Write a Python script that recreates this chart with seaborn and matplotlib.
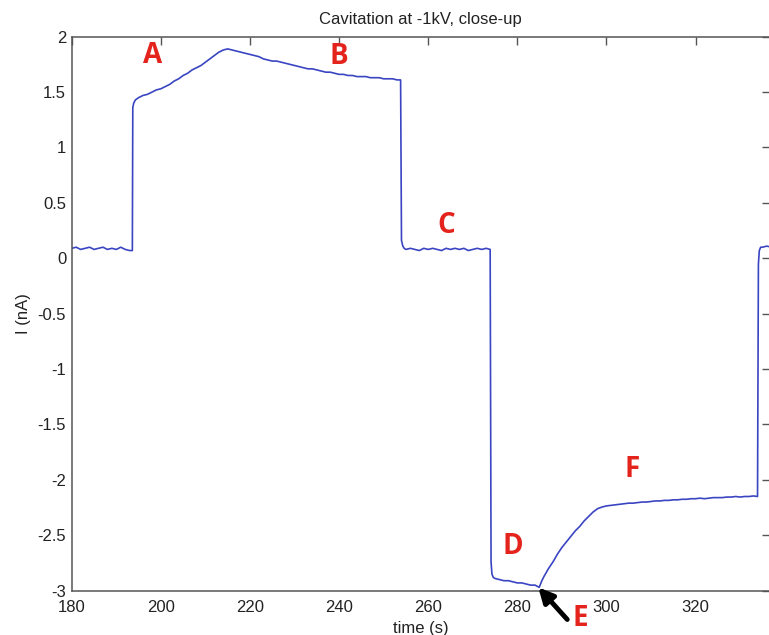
import pandas as pd
import seaborn as sns
from matplotlib import pyplot as plt

# current trace (nA), segment by segment
rest1_t = [180, 181, 182, 183, 184, 185, 186, 187, 188, 189, 190, 191, 192, 193, 193.6]
rest1_i = [0.09, 0.10, 0.08, 0.09, 0.10, 0.08, 0.09, 0.10, 0.08, 0.09, 0.08, 0.10, 0.08, 0.07, 0.07]

on1_t = [193.7, 193.9, 194.3, 195, 196, 197, 198, 199, 200, 201, 202, 203, 204, 205,
         206, 207, 208, 209, 210, 211, 212, 213, 214, 215, 216, 217, 218, 219, 220,
         221, 222, 223, 224, 225, 226, 227, 228, 229, 230, 231, 232, 233, 234, 235,
         236, 237, 238, 239, 240, 241, 242, 243, 244, 245, 246, 247, 248, 249, 250,
         251, 252, 253, 253.8]
on1_i = [1.36, 1.40, 1.43, 1.45, 1.47, 1.48, 1.50, 1.52, 1.53, 1.55, 1.57, 1.60, 1.62, 1.65,
         1.67, 1.70, 1.72, 1.74, 1.77, 1.80, 1.83, 1.86, 1.88, 1.89, 1.88, 1.87, 1.86, 1.85, 1.84,
         1.83, 1.82, 1.80, 1.79, 1.78, 1.78, 1.77, 1.76, 1.75, 1.74, 1.73, 1.72, 1.71, 1.71, 1.70,
         1.69, 1.68, 1.68, 1.67, 1.66, 1.66, 1.65, 1.65, 1.64, 1.64, 1.64, 1.63, 1.63, 1.63, 1.62,
         1.62, 1.62, 1.61, 1.61]

rest2_t = [254.0, 254.3, 254.6, 255, 256, 257, 258, 259, 260, 261, 262, 263, 264, 265,
           266, 267, 268, 269, 270, 271, 272, 273, 273.9]
rest2_i = [0.16, 0.11, 0.09, 0.08, 0.09, 0.08, 0.07, 0.09, 0.08, 0.09, 0.08, 0.07, 0.09, 0.08,
           0.09, 0.08, 0.09, 0.07, 0.08, 0.09, 0.08, 0.09, 0.08]

on2_t = [274.1, 274.3, 274.6, 275, 276, 277, 278, 279, 280, 281, 282, 283, 284, 284.9]
on2_i = [-2.74, -2.85, -2.88, -2.89, -2.90, -2.91, -2.91, -2.92, -2.93, -2.93, -2.94, -2.95, -2.95, -2.97]

recov_t = [285.5, 286, 287, 288, 289, 290, 291, 292, 293, 294, 295, 296, 297, 298, 299,
           300, 301, 302, 303, 304, 305, 306, 307, 308, 309, 310, 311, 312, 313, 314,
           315, 316, 317, 318, 319, 320, 321, 322, 323, 324, 325, 326, 327, 328, 329,
           330, 331, 332, 333, 333.9]
recov_i = [-2.91, -2.87, -2.80, -2.74, -2.67, -2.61, -2.56, -2.51, -2.46, -2.42, -2.37, -2.33, -2.29, -2.26, -2.245,
           -2.235, -2.23, -2.225, -2.22, -2.215, -2.21, -2.21, -2.205, -2.20, -2.20, -2.195, -2.19, -2.19, -2.185, -2.185,
           -2.18, -2.18, -2.175, -2.175, -2.17, -2.17, -2.165, -2.17, -2.165, -2.16, -2.16, -2.16, -2.155, -2.155, -2.15,
           -2.155, -2.15, -2.15, -2.145, -2.15]

rest3_t = [334.1, 334.3, 334.6, 335, 336, 337]
rest3_i = [-0.05, 0.07, 0.10, 0.10, 0.11, 0.10]

# phase labels
labels = ["A", "B", "C", "D", "F"]
label_t = [198.2, 240.0, 264.0, 279.0, 305.8]
label_i = [1.83, 1.82, 0.30, -2.60, -1.91]

df = pd.DataFrame({
    "t": rest1_t + on1_t + rest2_t + on2_t + recov_t + rest3_t,
    "i": rest1_i + on1_i + rest2_i + on2_i + recov_i + rest3_i,
})

sns.set_style("white")
plt.rcParams["font.family"] = ["Liberation Sans", "DejaVu Sans"]

fig = plt.figure(figsize=(7.69, 6.35), dpi=100)
ax = fig.add_axes([0.0933, 0.0698, 0.908, 0.8724])

sns.lineplot(data=df, x="t", y="i", ax=ax, color="#3a45c2", linewidth=1.2,
             estimator=None, sort=False)

ax.set_xlim(180, 336.7)
ax.set_ylim(-3, 2)
ax.set_xticks([180, 200, 220, 240, 260, 280, 300, 320])
ax.set_yticks([-3, -2.5, -2, -1.5, -1, -0.5, 0, 0.5, 1, 1.5, 2])
ax.set_yticklabels(["-3", "-2.5", "-2", "-1.5", "-1", "-0.5", "0", "0.5", "1", "1.5", "2"])
ax.tick_params(direction="in", length=6, width=1, colors="#555555", labelcolor="#222222",
               labelsize=12, top=True, right=True)
ax.tick_params(axis="x", pad=7)
ax.tick_params(axis="y", pad=4)
for s in ax.spines.values():
    s.set_color("#555555")
    s.set_linewidth(1.1)

ax.set_title("Cavitation at -1kV, close-up", fontsize=12, color="#222222", pad=9)
ax.set_xlabel("time (s)", fontsize=12, color="#222222", labelpad=4)
ax.set_ylabel("I (nA)", fontsize=12, color="#222222", labelpad=5)

for lab, x, y in zip(labels, label_t, label_i):
    ax.text(x, y, lab, color="#e3231c", fontsize=20, fontweight="bold",
            family="Open Sans", ha="center", va="center")

# arrow pointing at E
ax.annotate("", xy=(284.7, -2.97), xytext=(291.2, -3.26), annotation_clip=False,
            arrowprops=dict(arrowstyle="-|>", color="black", lw=3.5, mutation_scale=22,
                            shrinkA=0, shrinkB=0))
ax.text(294.1, -3.255, "E", color="#e3231c", fontsize=20, fontweight="bold",
        family="Open Sans", ha="center", va="center", clip_on=False)

plt.savefig("out.png", dpi=100)
